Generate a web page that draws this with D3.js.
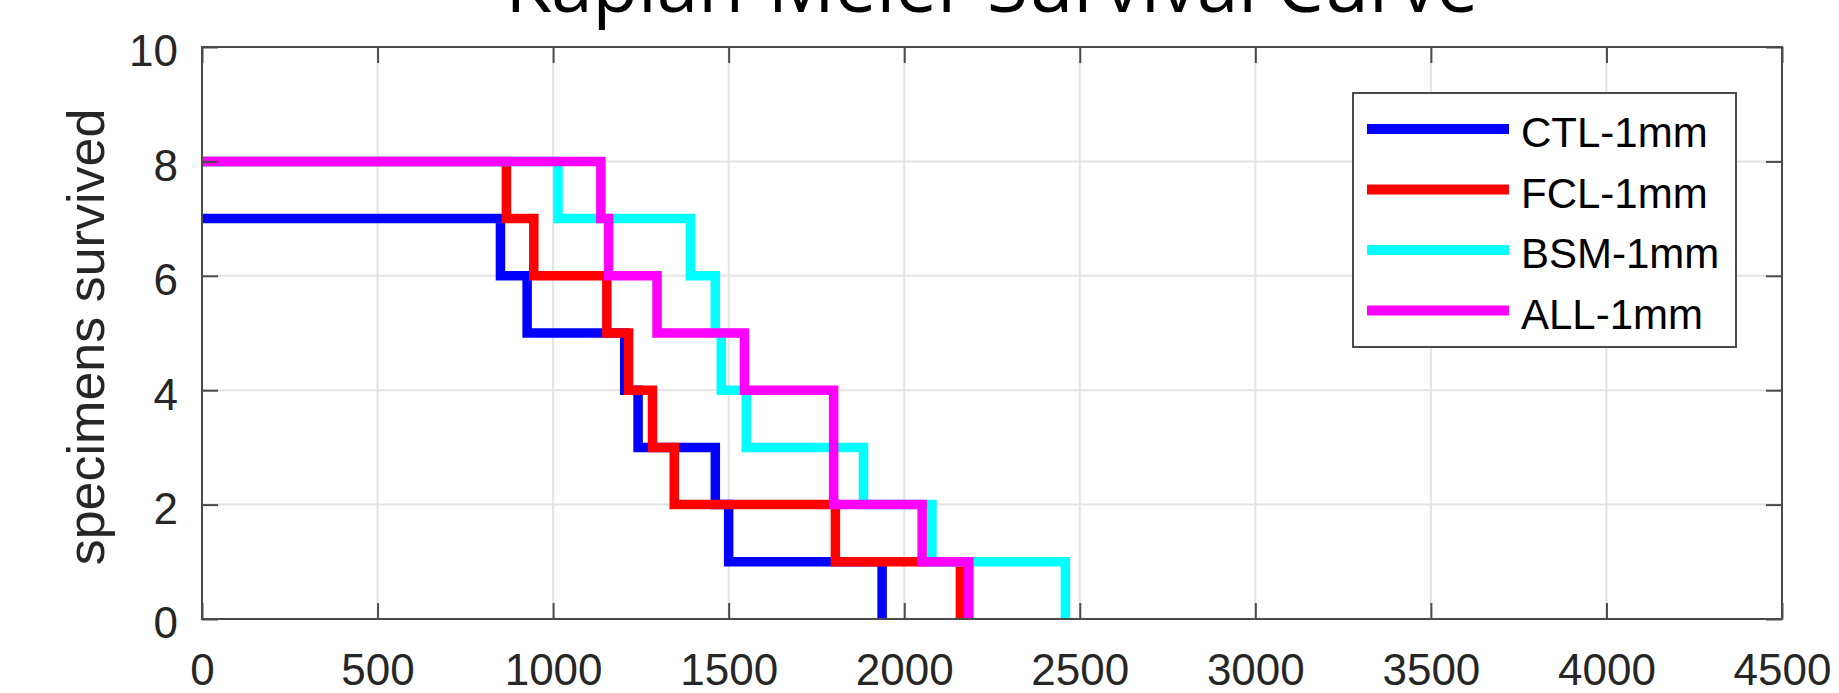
<!DOCTYPE html>
<html>
<head>
<meta charset="utf-8">
<script src="https://cdn.jsdelivr.net/npm/d3@7"></script>
<style>
body{margin:0;background:#fff;}
svg{display:block;}
</style>
</head>
<body>
<div id="chart"></div>
<script>
// survival counts, one step per failure time
var seriesNames=["CTL-1mm","FCL-1mm","BSM-1mm","ALL-1mm"];
var seriesColors=["#0000ff","#ff0000","#00ffff","#ff00ff"];

var ctlTimes=[0,850,926,1204,1242,1462,1500,1937];
var ctlCounts=[7,6,5,4,3,2,1,0];

var fclTimes=[0,867,945,1153,1215,1283,1345,1804,2160];
var fclCounts=[8,7,6,5,4,3,2,1,0];

var bsmTimes=[0,1014,1391,1462,1479,1550,1884,2079,2459];
var bsmCounts=[8,7,6,5,4,3,2,1,0];

var allTimes=[0,1136,1158,1296,1545,1799,2051,2184];
var allCounts=[8,7,6,5,4,2,1,0];

var xTicks=[0,500,1000,1500,2000,2500,3000,3500,4000,4500];
var yTicks=[0,2,4,6,8,10];

var width=1839,
    height=693;
var margin={top:47,right:57,bottom:74,left:202};
var innerW=width-margin.left-margin.right,
    innerH=height-margin.top-margin.bottom;

var svg=d3.select("#chart")
          .append("svg")
          .attr("width",width)
          .attr("height",height);

var g=svg.append("g")
         .attr("transform","translate("+margin.left+","+margin.top+")");

var xScale=d3.scaleLinear().domain([0,4500]).range([0,innerW]);
var yScale=d3.scaleLinear().domain([0,10]).range([innerH,0]);

// grid
g.append("g").selectAll("line")
 .data(xTicks.slice(1,-1))
 .enter().append("line")
 .attr("x1",function(d){return xScale(d);})
 .attr("x2",function(d){return xScale(d);})
 .attr("y1",0).attr("y2",innerH)
 .attr("stroke","#e3e3e3").attr("stroke-width",2);

g.append("g").selectAll("line")
 .data(yTicks.slice(1,-1))
 .enter().append("line")
 .attr("y1",function(d){return yScale(d);})
 .attr("y2",function(d){return yScale(d);})
 .attr("x1",0).attr("x2",innerW)
 .attr("stroke","#e3e3e3").attr("stroke-width",2);

var series=[
  {name:seriesNames[0],color:seriesColors[0],t:ctlTimes,n:ctlCounts},
  {name:seriesNames[1],color:seriesColors[1],t:fclTimes,n:fclCounts},
  {name:seriesNames[2],color:seriesColors[2],t:bsmTimes,n:bsmCounts},
  {name:seriesNames[3],color:seriesColors[3],t:allTimes,n:allCounts}
];

var line=d3.line()
           .x(function(d){return xScale(d[0]);})
           .y(function(d){return yScale(d[1]);})
           .curve(d3.curveStepAfter);

g.selectAll(".km")
 .data(series)
 .enter()
 .append("path")
 .attr("class","km")
 .attr("fill","none")
 .attr("stroke",function(d){return d.color;})
 .attr("stroke-width",9.5)
 .attr("stroke-linejoin","miter")
 .attr("stroke-linecap","butt")
 .attr("d",function(d){
   return line(d.t.map(function(t,i){return [t,d.n[i]];}));
 });

// axes, ticks pointing inward on all four sides
var axisColor="#4a4a4a";
var fontFam="'Liberation Sans', Arial, sans-serif";

var xAxis=d3.axisBottom(xScale).tickValues(xTicks).tickSize(-16).tickPadding(35).tickFormat(d3.format("d"));
var gx=g.append("g").attr("transform","translate(0,"+innerH+")").call(xAxis);

var yAxis=d3.axisLeft(yScale).tickValues(yTicks).tickSize(-16).tickPadding(24);
var gy=g.append("g").call(yAxis);

var gxt=g.append("g").call(d3.axisTop(xScale).tickValues(xTicks).tickSize(-16).tickFormat(""));
var gyr=g.append("g").attr("transform","translate("+innerW+",0)")
         .call(d3.axisRight(yScale).tickValues(yTicks).tickSize(-16).tickFormat(""));

[gx,gy,gxt,gyr].forEach(function(a){
  a.select(".domain").remove();
  a.selectAll(".tick line").attr("stroke",axisColor).attr("stroke-width",2);
  a.selectAll(".tick text")
   .attr("fill","#262626")
   .style("font-family",fontFam)
   .style("font-size","44px");
});
gy.selectAll(".tick text").attr("dy","0.43em");

g.append("rect")
 .attr("x",0).attr("y",0)
 .attr("width",innerW).attr("height",innerH)
 .attr("fill","none")
 .attr("stroke",axisColor)
 .attr("stroke-width",2);

// y label
svg.append("text")
   .attr("transform","translate(104,"+(margin.top+innerH/2+4)+") rotate(-90)")
   .attr("text-anchor","middle")
   .attr("fill","#262626")
   .style("font-family",fontFam)
   .style("font-size","52px")
   .text("specimens survived");

// title, cut off at the top as in the figure
var title=svg.append("text")
   .attr("x",margin.left+innerW/2)
   .attr("y",12)
   .attr("text-anchor","middle")
   .attr("fill","#000")
   .style("font-family","'Open Sans', 'Noto Sans', sans-serif")
   .style("font-size","100px")
   .text("Kaplan-Meier Survival Curve");
var tl=title.node().getComputedTextLength();
title.style("font-size",(100*973/tl)+"px");

// legend
var legend=svg.append("g").attr("transform","translate(1353,93)");
legend.append("rect")
      .attr("width",383).attr("height",254)
      .attr("fill","#fff")
      .attr("stroke",axisColor)
      .attr("stroke-width",2);

var items=legend.selectAll(".item")
      .data(series)
      .enter().append("g")
      .attr("transform",function(d,i){return "translate(0,"+(36+i*60.5)+")";});

items.append("line")
     .attr("x1",14).attr("x2",156)
     .attr("stroke",function(d){return d.color;})
     .attr("stroke-width",10);

items.append("text")
     .attr("x",168).attr("y",18)
     .attr("fill","#000")
     .style("font-family",fontFam)
     .style("font-size","42px")
     .text(function(d){return d.name;});
</script>
</body>
</html>
